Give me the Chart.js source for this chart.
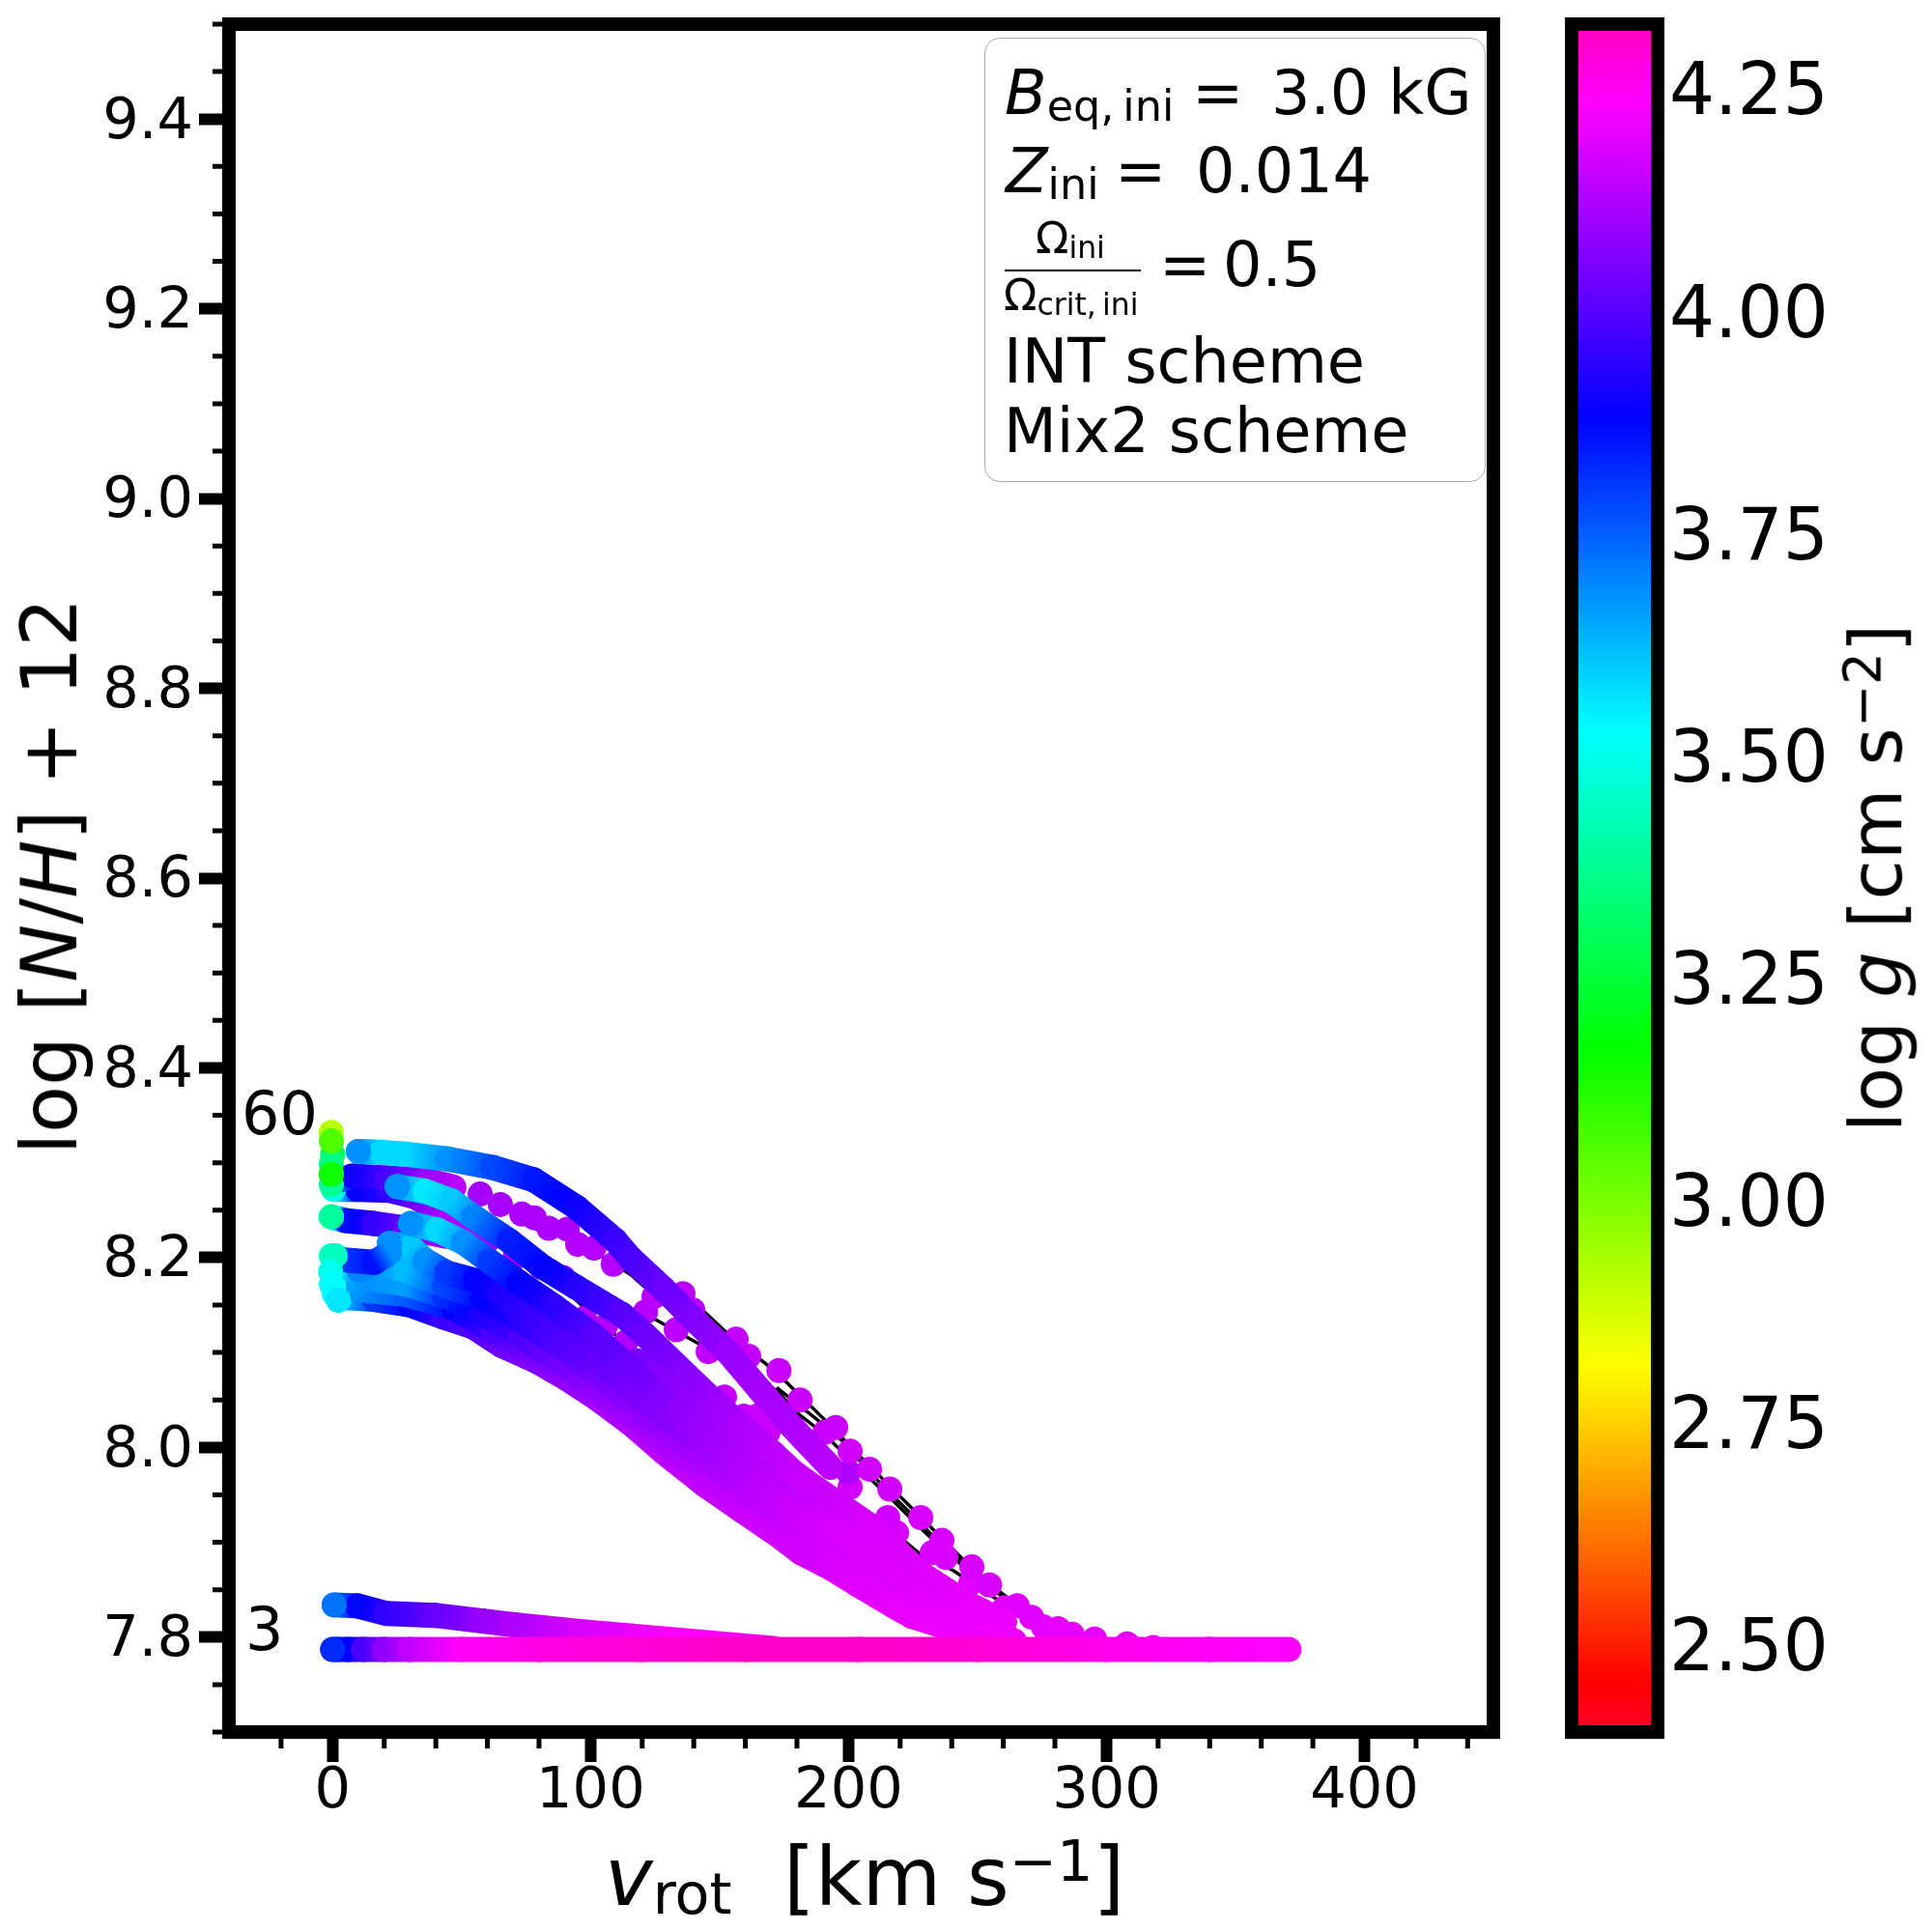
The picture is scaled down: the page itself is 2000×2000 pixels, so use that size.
<!DOCTYPE html>
<html><head><meta charset="utf-8">
<script src="https://cdn.jsdelivr.net/npm/chart.js@4"></script>
<style>
html,body{margin:0;padding:0;background:#fff;width:2000px;height:2000px;overflow:hidden}
canvas{position:absolute;left:0;top:0}
.t{position:absolute;font-family:'DejaVu Sans';color:#000;white-space:pre;line-height:1}
.s{font-size:.7em;line-height:0;position:relative;top:.16em}
.u{font-size:.7em;line-height:0;position:relative;top:-.42em}
i{font-style:italic}
</style></head><body>
<canvas id="main" width="2000" height="2000"></canvas>
<canvas id="bar" width="2000" height="2000"></canvas>
<div id="over"></div>
<script>
// ---- axis ticks
const xTicks=[0,100,200,300,400];
const xMinor=[-20,20,40,60,80,120,140,160,180,220,240,260,280,320,340,360,380,420,440];
const yTicks=[7.8,8.0,8.2,8.4,8.6,8.8,9.0,9.2,9.4];
const yMinor=[7.7,7.75,7.85,7.9,7.95,8.05,8.1,8.15,8.25,8.3,8.35,8.45,8.5,8.55,8.65,8.7,8.75,8.85,8.9,8.95,9.05,9.1,9.15,9.25,9.3,9.35,9.45,9.5];
const cbTicks=[2.5,2.75,3.0,3.25,3.5,3.75,4.0,4.25];
const gMin=2.401, gMax=4.322;

// ---- tracks: v_rot, log[N/H]+12, log g
const aV=[10,19,28.4,44.5,62,78,94.6,109.6,115.6,128.3,140.7,153,165.8,178,193];
const aN=[8.312,8.311,8.309,8.304,8.295,8.282,8.253,8.218,8.199,8.167,8.133,8.101,8.060,8.022,7.979];
const aG=[3.68,3.58,3.58,3.68,3.78,3.85,3.9,3.96,3.98,4.03,4.06,4.09,4.11,4.12,4.14];

const b3V=[25,35.8,46,54.6,68.4,81.5,94.3,112.2,120.9,137.3,149.7,158.3,170.7,183];
const b3N=[8.275,8.270,8.260,8.243,8.218,8.190,8.169,8.140,8.119,8.076,8.044,8.023,7.994,7.963];
const b3G=[3.68,3.56,3.6,3.7,3.84,3.88,3.93,4.0,4.03,4.07,4.1,4.12,4.14,4.16];

const b3bV=[118,125.7,137,148.2,163.2,181.9];
const b3bN=[8.091,8.072,8.045,8.017,7.984,7.943];
const b3bG=[4.05,4.07,4.09,4.11,4.13,4.15];

const b5V=[30.2,40.7,50.8,60.9,72.2,85.7,100.6,115.6,128.3,134.3,149.3,165.8,181.9];
const b5N=[8.236,8.229,8.216,8.196,8.174,8.149,8.119,8.083,8.053,8.040,8.002,7.961,7.925];
const b5G=[3.68,3.58,3.68,3.8,3.88,3.94,4.0,4.03,4.06,4.08,4.11,4.14,4.17];

const b6V=[22,30.2,35.8,44.1,55.3,65.1,78.2,90.9,103.3,115.6,129.5,144.5,159.4,174.4];
const b6N=[8.215,8.211,8.197,8.184,8.176,8.162,8.135,8.109,8.089,8.060,8.030,7.999,7.969,7.938];
const b6G=[3.68,3.6,3.68,3.8,3.88,3.92,3.96,4.0,4.02,4.05,4.07,4.1,4.13,4.15];

const b7V=[16,28.4,43.3,58.3,73.3,88.3,103.3,118.2,133.2,148.2,163.2,178.2];
const b7N=[8.195,8.187,8.171,8.157,8.133,8.106,8.075,8.042,8.009,7.979,7.948,7.920];
const b7G=[3.68,3.62,3.78,3.88,3.94,4.0,4.05,4.08,4.1,4.12,4.14,4.16];

const b8V=[11.5,28.4,43.3,58.3,73.3,88.3,103.3,118.2,133.2,148.2,163.2,178.2];
const b8N=[8.179,8.172,8.160,8.141,8.116,8.089,8.062,8.030,7.997,7.967,7.938,7.908];
const b8G=[3.68,3.66,3.82,3.92,3.99,4.04,4.08,4.1,4.12,4.14,4.16,4.17];

const b9V=[7.8,28.4,47.1,62.1,77,92,107,122,137,155.7];
const b9N=[8.167,8.161,8.147,8.123,8.101,8.072,8.048,8.013,7.983,7.948];
const b9G=[3.68,3.75,3.88,3.98,4.04,4.08,4.11,4.13,4.14,4.16];

const b10V=[3.2,16,30.2,43.3,54.5,65.8,79.7,91,103.3,115.6,128.3,144.5,159.4,174.4,181.6,193.1,203.2,217.4,224.6,237.3,249.3];
const b10N=[8.158,8.156,8.150,8.137,8.127,8.107,8.090,8.072,8.050,8.025,7.995,7.960,7.932,7.904,7.889,7.873,7.856,7.833,7.822,7.811,7.801];
const b10G=[3.6,3.8,3.88,3.96,3.99,4.03,4.07,4.09,4.11,4.13,4.14,4.15,4.16,4.17,4.17,4.18,4.19,4.2,4.2,4.21,4.21];

const b11V=[170.7,189.4,208.1,228,245.6,260.5];
const b11N=[7.989,7.953,7.918,7.867,7.836,7.816];
const b11G=[4.14,4.16,4.18,4.19,4.2,4.21];

const b12V=[163.2,178.2,196.9,215.6,234.3,253,264.2];
const b12N=[7.979,7.948,7.913,7.877,7.841,7.811,7.796];
const b12G=[4.14,4.16,4.18,4.19,4.2,4.21,4.21];

const b13V=[166.9,185.6,204.4,223.1,241.8,256.8];
const b13N=[7.948,7.913,7.877,7.844,7.816,7.796];
const b13G=[4.15,4.17,4.18,4.19,4.2,4.21];

const b14V=[170.7,189.4,208.1,226.8,245.6];
const b14N=[7.923,7.890,7.857,7.826,7.801];
const b14G=[4.16,4.17,4.18,4.19,4.2];

const b2aV=[-0.5,2.9,7.7,20.9,37,47];
const b2aN=[8.288,8.282,8.286,8.284,8.281,8.274];
const b2aG=[3.3,3.75,3.9,3.98,4.1,4.14];

const b2bV=[0.3,9.6,22,32.1,43.3];
const b2bN=[8.272,8.272,8.271,8.264,8.246];
const b2bG=[3.5,3.88,3.95,4.03,4.12];

const b4V=[-0.5,5.1,16,28.4,43.3,53.4];
const b4N=[8.243,8.239,8.236,8.231,8.223,8.220];
const b4G=[3.4,3.86,3.95,4.03,4.1,4.13];

const c1V=[1,3.3,16,22];
const c1N=[8.202,8.198,8.195,8.205];
const c1G=[3.44,3.8,3.86,3.68];
const c2V=[0.3,10,16];
const c2N=[8.190,8.188,8.194];
const c2G=[3.5,3.7,3.68];
const c3V=[0.3,6,11.5];
const c3N=[8.172,8.175,8.179];
const c3G=[3.5,3.65,3.68];

const lowV=[0.6,9.6,20.8,39.6,58.3,70.3,95.8,133.2,170.7];
const lowN=[7.834,7.833,7.825,7.823,7.817,7.813,7.806,7.797,7.788];
const lowG=[3.72,3.87,3.95,4.02,4.09,4.12,4.18,4.23,4.25];

const baseV=[0,2,6,12,20,30,50,80,120,160,204,250,300,340,370.7];
const baseN=[7.787,7.787,7.787,7.787,7.787,7.787,7.787,7.787,7.787,7.787,7.787,7.787,7.787,7.787,7.787];
const baseG=[3.82,3.84,3.88,3.98,4.08,4.15,4.24,4.27,4.29,4.31,4.31,4.29,4.26,4.24,4.23];

// ---- sparse dots on the fast-rotating ends
const d1V=[37,44.5,57.2,65,73.3,78.2,83.8,90.9,95,101.3,108.8,124.6,135.8,139.6,156.4,161.3,173,181.2,195,200.6,208.1,216,228,236.2,247.8,254.6,265.4,271,281.2,295.4,308,318.2];
const d1N=[8.281,8.276,8.267,8.256,8.246,8.242,8.231,8.230,8.214,8.210,8.193,8.159,8.162,8.145,8.114,8.096,8.081,8.050,8.021,7.996,7.977,7.956,7.926,7.902,7.874,7.855,7.833,7.821,7.809,7.798,7.793,7.789];
const d1G=[4.1,4.1,4.11,4.11,4.12,4.12,4.12,4.12,4.13,4.13,4.13,4.14,4.14,4.14,4.15,4.15,4.16,4.16,4.16,4.17,4.17,4.17,4.18,4.18,4.18,4.18,4.19,4.19,4.2,4.2,4.2,4.2];

const d2V=[121.3,133.2,145.6,190.9,199.9,215.2,232.4,247.4,260.5,275.5,286.7];
const d2N=[8.143,8.124,8.101,8.016,7.974,7.926,7.889,7.857,7.831,7.811,7.803];
const d2G=[4.13,4.14,4.15,4.16,4.12,4.17,4.18,4.19,4.19,4.2,4.2];

const d3V=[43.3,49.7,60.9,70.7,80.8,89.4,97.6,105.8,113.7,151.9,159.4,164.3,168.8,200.6,218.6,237.7];
const d3N=[8.246,8.241,8.220,8.200,8.190,8.179,8.136,8.128,8.111,8.053,8.033,8.033,8.016,7.958,7.910,7.884];
const d3G=[4.1,4.1,4.11,4.11,4.12,4.12,4.13,4.13,4.13,4.15,4.15,4.16,4.16,4.17,4.18,4.18];

const d0V=[-0.5,0,-0.5,-0.5,-0.5,-0.5,-0.5,-0.5,-0.8,-0.5,0.6,2.2];
const d0N=[8.332,8.309,8.299,8.323,8.277,8.288,8.243,8.202,8.185,8.172,8.162,8.155];
const d0G=[2.92,3.3,3.35,3.06,3.38,3.15,3.39,3.44,3.5,3.52,3.53,3.56];

// ---- thin black track lines
const l1V=[60.9,72.2,78.9,89.4,102.1,115.6,120.9,133.2,143.3,151.9,158.3,168,175.4,190.4,205,224.9,243.6,262.3,276.5,294.1,308,318,339.2];
const l1N=[8.258,8.248,8.230,8.221,8.205,8.182,8.169,8.157,8.145,8.123,8.108,8.088,8.070,8.030,7.989,7.935,7.884,7.839,7.814,7.799,7.793,7.789,7.787];
const l2V=[95.8,110.7,125.7,140.7,158.3,166.9,173.3,179.3,190.6,199.9,213.8,230.6,245.6,260.5,273.6,286.7,301.7];
const l2N=[8.177,8.152,8.134,8.111,8.086,8.070,8.057,8.038,8.014,7.989,7.953,7.908,7.872,7.841,7.816,7.801,7.791];
const l3V=[43.3,60.9,80.8,97.6,113.7,125.7,133.2,140.7,147.8,159.4,173.3,182.6,196.9,215.2,228,240.7,258,273.2,283];
const l3N=[8.246,8.220,8.190,8.147,8.109,8.086,8.067,8.048,8.031,8.017,8.002,7.978,7.943,7.916,7.887,7.870,7.839,7.813,7.801];
const l4V=[172.1,189.4,198,205,213.7,225,234.3,250,265];
const l4N=[8.063,8.026,8.006,7.984,7.958,7.928,7.902,7.865,7.835];

// ---- gist_rainbow colour map
const cmT=[0,0.03,0.215,0.4,0.586,0.77,0.954,1];
const cmC=[[255,0,41],[255,0,0],[255,255,0],[0,255,0],[0,255,255],[0,0,255],[255,0,255],[255,0,191]];
function cmapT(t){
  t=Math.max(0,Math.min(1,t));
  let i=0; while(i<cmT.length-2&&t>cmT[i+1])i++;
  const f=(t-cmT[i])/(cmT[i+1]-cmT[i]);
  const c=cmC[i].map((a,k)=>Math.round(a+(cmC[i+1][k]-a)*f));
  return `rgb(${c[0]},${c[1]},${c[2]})`;
}
const col=g=>cmapT((g-gMin)/(gMax-gMin));
const pts=(v,n)=>v.map((x,i)=>({x,y:n[i]}));
const R=13;

function band(v,n,g){
  return {data:pts(v,n),showLine:true,borderWidth:2*R,borderCapStyle:'round',borderJoinStyle:'round',tension:0,
    pointRadius:g.map((_,i)=>i===0?R:0),pointBackgroundColor:g.map(col),pointBorderWidth:0,
    segment:{borderColor:c=>{
      const a=g[c.p0DataIndex],b=g[c.p1DataIndex];
      const gr=c.chart.ctx.createLinearGradient(c.p0.x,c.p0.y,c.p1.x,c.p1.y);
      for(let k=0;k<=4;k++)gr.addColorStop(k/4,col(a+(b-a)*k/4));
      return gr;}}};
}
function dots(v,n,g){
  return {data:pts(v,n),showLine:false,pointRadius:R,pointBackgroundColor:g.map(col),pointBorderWidth:0};
}
function thin(v,n){
  return {data:pts(v,n),showLine:true,borderColor:'#000',borderWidth:3.5,pointRadius:0,tension:0};
}
// listed bottom to top
const stack=[
  thin(l4V,l4N),thin(l3V,l3N),thin(l2V,l2N),thin(l1V,l1N),
  dots(d3V,d3N,d3G),dots(d2V,d2N,d2G),dots(d1V,d1N,d1G),
  band(b2bV,b2bN,b2bG),band(b2aV,b2aN,b2aG),band(b4V,b4N,b4G),
  band(b14V,b14N,b14G),band(b13V,b13N,b13G),band(b12V,b12N,b12G),band(b11V,b11N,b11G),
  band(b10V,b10N,b10G),band(b9V,b9N,b9G),band(b8V,b8N,b8G),band(c3V,c3N,c3G),
  band(b7V,b7N,b7G),band(c2V,c2N,c2G),band(b6V,b6N,b6G),band(c1V,c1N,c1G),
  band(b3bV,b3bN,b3bG),band(b5V,b5N,b5G),band(b3V,b3N,b3G),band(aV,aN,aG),
  dots(d0V,d0N,d0G),
  band(lowV,lowN,lowG),band(baseV,baseN,baseG)
];

const font={family:'DejaVu Sans',size:59};
const frame={id:'frame',afterDraw(ch){
  const c=ch.ctx,a=ch.chartArea;
  c.save();c.strokeStyle='#000';c.lineWidth=14;c.lineJoin='miter';
  c.strokeRect(a.left,a.top,a.right-a.left,a.bottom-a.top);
  c.restore();
}};
const minorTicks={id:'minorTicks',afterDraw(ch){
  const c=ch.ctx,a=ch.chartArea,sx=ch.scales.x,sy=ch.scales.y;
  c.save();c.strokeStyle='#000';c.lineWidth=5;c.beginPath();
  xMinor.forEach(v=>{const p=sx.getPixelForValue(v);c.moveTo(p,a.bottom);c.lineTo(p,a.bottom+17);});
  yMinor.forEach(v=>{const p=sy.getPixelForValue(v);c.moveTo(a.left,p);c.lineTo(a.left-17,p);});
  c.stroke();c.restore();
}};
const noPad=s=>{s.paddingTop=0;s.paddingBottom=0;s.paddingLeft=0;s.paddingRight=0;};

new Chart(document.getElementById('main'),{
  type:'scatter',
  data:{datasets:stack.slice().reverse()},
  plugins:[minorTicks,frame],
  options:{responsive:false,animation:false,devicePixelRatio:1,
    layout:{padding:{left:0,top:25,right:454,bottom:0}},
    plugins:{legend:{display:false},tooltip:{enabled:false}},
    scales:{
      x:{type:'linear',min:-40.2,max:450,
        afterBuildTicks:s=>{s.ticks=xTicks.map(v=>({value:v}));},
        afterFit:s=>{s.height=207;noPad(s);},
        border:{display:false},
        grid:{drawOnChartArea:false,drawTicks:true,tickLength:31,tickWidth:12,tickColor:'#000'},
        ticks:{font,color:'#000',padding:-4,maxRotation:0,autoSkip:false,callback:v=>String(v)}},
      y:{type:'linear',min:7.7,max:9.5,
        afterBuildTicks:s=>{s.ticks=yTicks.map(v=>({value:v}));},
        afterFit:s=>{s.width=237;noPad(s);},
        border:{display:false},
        grid:{drawOnChartArea:false,drawTicks:true,tickLength:31,tickWidth:12,tickColor:'#000'},
        ticks:{font,color:'#000',padding:6,labelOffset:4,autoSkip:false,callback:v=>v.toFixed(1)}}
    }}
});

new Chart(document.getElementById('bar'),{
  type:'bar',
  data:{labels:['log g'],datasets:[{data:[[gMin,gMax]],barPercentage:1,categoryPercentage:1,borderSkipped:false,
    backgroundColor:c=>{
      const a=c.chart.chartArea; if(!a)return '#000';
      const gr=c.chart.ctx.createLinearGradient(0,a.bottom,0,a.top);
      cmT.forEach((t,i)=>gr.addColorStop(t,cmapT(t)));
      return gr;}}]},
  plugins:[frame],
  options:{responsive:false,animation:false,devicePixelRatio:1,
    layout:{padding:{left:1627,top:25,right:0,bottom:207}},
    plugins:{legend:{display:false},tooltip:{enabled:false}},
    scales:{
      x:{display:false},
      y:{type:'linear',position:'right',min:gMin,max:gMax,
        afterBuildTicks:s=>{s.ticks=cbTicks.map(v=>({value:v}));},
        afterFit:s=>{s.width=284;noPad(s);},
        border:{display:false},
        grid:{drawOnChartArea:false,drawTicks:false},
        ticks:{font:{family:'DejaVu Sans',size:74},color:'#000',padding:12,labelOffset:8,autoSkip:false,crossAlign:'near',callback:v=>v.toFixed(2)}}
    }}
});

// ---- text
const over=document.getElementById('over');
function put(html,x,base,fs){
  const d=document.createElement('div');d.className='t';d.innerHTML=html;
  d.style.left=x+'px';d.style.top=(base-0.846*fs)+'px';d.style.fontSize=fs+'px';
  over.appendChild(d);return d;
}
function rot(html,cx,cy,fs){
  const d=document.createElement('div');d.className='t';d.innerHTML=html;
  d.style.left=cx+'px';d.style.top=cy+'px';d.style.fontSize=fs+'px';
  d.style.transform='translate(-50%,-50%) rotate(-90deg)';
  over.appendChild(d);
}
const box=document.createElement('div');
box.style.cssText='position:absolute;left:1019px;top:39px;width:517px;height:458px;border:1.5px solid #aaa;border-radius:16px';
over.appendChild(box);
const LF=63.6;
put('<i>B</i><span class="s">eq,\u2009ini</span>',1040,119,LF);
put('=',1234,119,LF);
put('3.0 kG',1316,119,LF);
put('<i>Z</i><span class="s">ini</span>',1041,200,LF);
put('=',1154,200,LF);
put('0.014',1238,200,LF);
put('Ω<span class="s">ini</span>',1072,262,45);
put('Ω<span class="s">crit,\u2009ini</span>',1039,321,45);
const bar=document.createElement('div');
bar.style.cssText='position:absolute;left:1040px;top:279px;width:141px;height:2px;background:#000';
over.appendChild(bar);
put('=',1200,297,LF);
put('0.5',1266,297,LF);
put('INT scheme',1039,397,LF);
put('Mix2 scheme',1039,469,LF);
put('60',250,1174,62);
put('3',254,1708,62);
put('<i>v</i><span class="s">rot</span>  [km s<span class="u">−1</span>]',626,1972,84);
rot('log [<i>N</i>/<i>H</i>] + 12',52,907,80);
rot('log <i>g</i> [cm s<span class="u">−2</span>]',1943,909,75.5);
</script>
</body></html>
